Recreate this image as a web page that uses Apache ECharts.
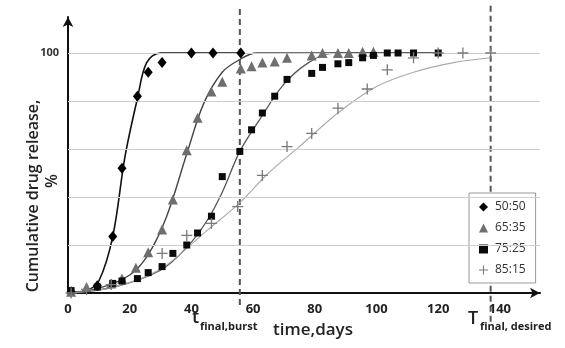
<!DOCTYPE html>
<html>
<head>
<meta charset="utf-8">
<script src="https://cdn.jsdelivr.net/npm/echarts@6/dist/echarts.min.js"></script>
<style>
  html, body { margin: 0; padding: 0; background: #fff; }
  #chart { width: 565px; height: 348px; }
</style>
</head>
<body>
<div id="chart"></div>
<script>
// measured points (days, % released)
const days50 = [1, 9.5, 14.5, 17.5, 22.5, 26, 30.5, 40, 47, 56];
const rel50 = [0.5, 3, 23.5, 52, 82, 92, 96, 100, 100, 100];

const days65 = [1, 6, 14, 17.5, 22, 26, 30.5, 34, 38.5, 42, 46.5, 50, 56, 59.5, 63, 67, 71, 79, 82.5, 87.5, 91, 95.5, 99];
const rel65 = [0.5, 2.5, 4, 6, 10.5, 17, 26.5, 39, 59.5, 73, 84, 88, 93.5, 94.5, 96, 96.5, 98, 99, 100, 100, 100, 100.5, 100.5];

const days75 = [1, 9.5, 14.5, 17.5, 22.5, 26, 30.5, 34, 38.5, 42, 46.5, 50, 55.7, 59.5, 63, 67, 71, 79, 82.5, 87.5, 91, 95.5, 99, 103.5, 107, 112, 120];
const rel75 = [1, 2.5, 4, 5, 6, 8.5, 11, 16.5, 20, 25, 32, 48.5, 59, 68, 75, 82, 89, 91.5, 94, 95.5, 96, 98, 99, 100, 100, 100, 100];

const days85 = [1, 6, 14, 30.5, 38.5, 46.5, 55, 63, 71, 79, 87.5, 97, 103.5, 112, 120, 128, 137];
const rel85 = [0, 1.5, 3.5, 16.5, 24, 29, 36, 49, 61, 66.5, 77, 85, 93, 98, 100, 100, 100];

// fitted curves
const fitDays50 = [0, 6, 10, 14.5, 18.5, 22.5, 25.5, 30, 56];
const fitRel50 = [0, 1, 5, 23.5, 57, 81, 96, 100, 100];

const fitDays65 = [0, 10, 20, 26, 32, 38.5, 44, 50, 56, 61, 120];
const fitRel65 = [0, 2, 7.5, 16, 32, 58, 79, 92, 97.5, 100, 100];

const fitDays75 = [0, 15, 30, 38.5, 45, 50, 55.7, 62, 70, 78, 86, 120];
const fitRel75 = [0, 2.5, 9.5, 19, 30, 42, 59, 72, 87, 96, 100, 100];

const fitDays85 = [0, 15, 30, 45, 56, 65, 75, 87.5, 100, 112, 125, 137];
const fitRel85 = [0, 2.5, 10, 26, 38, 50, 61, 75, 86, 92, 96, 98];

const gridValues = [20, 40, 60, 80, 100];
const burstDay = 55.7;
const desiredDay = 137;

const names = ['50:50', '65:35', '75:25', '85:15'];

const zip = (xs, ys) => xs.map((x, i) => [x, ys[i]]);
const crossPath = 'path://M4.4,0h1.2v4.4h4.4v1.2h-4.4v4.4h-1.2v-4.4h-4.4v-1.2h4.4z';

function fitLine(xs, ys, color, width) {
  return {
    type: 'line', data: zip(xs, ys), showSymbol: false, smooth: 0.35,
    silent: true,
    lineStyle: { color: color, width: width }, z: 2
  };
}

function vLine(day, bottom) {
  return {
    type: 'line', data: [[day, bottom], [day, 120]], showSymbol: false,
    clip: false, silent: true,
    lineStyle: { color: '#555', width: 2, type: [6, 4] }, z: 1
  };
}

const option = {
  animation: false,
  backgroundColor: '#fff',
  textStyle: { fontFamily: 'Open Sans' },
  grid: { left: 68, right: 25, top: 17, bottom: 55 },
  legend: {
    data: [
      { name: names[0], icon: 'diamond', itemStyle: { color: '#000' } },
      { name: names[1], icon: 'triangle', itemStyle: { color: '#6e6e6e' } },
      { name: names[2], icon: 'rect', itemStyle: { color: '#0a0a0a' } },
      { name: names[3], icon: crossPath, itemStyle: { color: '#7a7a7a' } }
    ],
    orient: 'vertical',
    left: 469, top: 193,
    width: 70,
    padding: [8, 10, 7, 10],
    itemGap: 9,
    itemWidth: 9, itemHeight: 9,
    borderColor: '#999', borderWidth: 1,
    backgroundColor: '#fff',
    textStyle: { fontSize: 12, color: '#333', fontFamily: 'Open Sans', padding: [0, 0, 0, 2] }
  },
  xAxis: {
    type: 'value', min: 0, max: 153, interval: 20,
    name: 'time,days', nameLocation: 'middle', nameGap: 29,
    nameTextStyle: { fontSize: 17, fontWeight: 600, color: '#222', padding: [0, 0, 0, 18] },
    axisLine: { lineStyle: { color: '#111', width: 2 }, symbol: ['none', 'arrow'], symbolSize: [8, 10] },
    axisTick: { show: false },
    splitLine: { show: false },
    axisLabel: {
      fontSize: 13, fontWeight: 'bold', color: '#222', margin: 10,
      formatter: v => (v % 20 === 0 ? String(v) : '')
    }
  },
  yAxis: {
    type: 'value', min: 0, max: 115, interval: 20,
    axisLine: { show: true, lineStyle: { color: '#111', width: 2 }, symbol: ['none', 'arrow'], symbolSize: [8, 10] },
    axisTick: { show: false },
    splitLine: { show: false },
    axisLabel: {
      fontSize: 11, fontWeight: 'bold', color: '#333', margin: 9,
      formatter: v => (v === 100 ? '100' : '')
    }
  },
  series: [
    {
      type: 'line', data: [], silent: true,
      markLine: {
        silent: true, symbol: 'none', label: { show: false },
        lineStyle: { color: '#cfcfcf', width: 1, type: 'solid' },
        data: gridValues.map(v => ({ yAxis: v }))
      }, z: 0
    },
    vLine(burstDay, -5),
    vLine(desiredDay, -12),
    fitLine(fitDays50, fitRel50, '#111', 1.6),
    fitLine(fitDays65, fitRel65, '#444', 1.4),
    fitLine(fitDays75, fitRel75, '#555', 1.3),
    fitLine(fitDays85, fitRel85, '#aaa', 1.1),
    { name: names[0], type: 'scatter', data: zip(days50, rel50), symbol: 'diamond', symbolSize: [9, 11], itemStyle: { color: '#000', opacity: 1 }, z: 5 },
    { name: names[1], type: 'scatter', data: zip(days65, rel65), symbol: 'triangle', symbolSize: [10, 10], itemStyle: { color: '#6e6e6e', opacity: 1 }, z: 5 },
    { name: names[2], type: 'scatter', data: zip(days75, rel75), symbol: 'rect', symbolSize: 7, itemStyle: { color: '#0a0a0a', opacity: 1 }, z: 5 },
    { name: names[3], type: 'scatter', data: zip(days85, rel85), symbol: crossPath, symbolSize: 11, itemStyle: { color: '#7a7a7a', opacity: 1 }, z: 5 }
  ],
  graphic: [
    { type: 'text', x: 33, y: 196, rotation: Math.PI / 2,
      style: { text: 'Cumulative drug release,', fontSize: 16, fontWeight: 600, fill: '#222', fontFamily: 'Open Sans', textAlign: 'center', textVerticalAlign: 'middle' } },
    { type: 'text', x: 52, y: 181, rotation: Math.PI / 2,
      style: { text: '%', fontSize: 16, fontWeight: 600, fill: '#222', fontFamily: 'Open Sans', textAlign: 'center', textVerticalAlign: 'middle' } },
    { type: 'text', x: 192, y: 309,
      style: { text: 't', fontSize: 18, fontWeight: 600, fill: '#222', fontFamily: 'Open Sans' } },
    { type: 'text', x: 200, y: 321,
      style: { text: 'final,burst', fontSize: 11, fontWeight: 'bold', fill: '#222', fontFamily: 'Open Sans' } },
    { type: 'text', x: 468, y: 310,
      style: { text: 'T', fontSize: 18, fontWeight: 600, fill: '#222', fontFamily: 'Open Sans' } },
    { type: 'text', x: 480, y: 321,
      style: { text: 'final, desired', fontSize: 11, fontWeight: 'bold', fill: '#222', fontFamily: 'Open Sans' } }
  ]
};

echarts.init(document.getElementById('chart')).setOption(option);
</script>
</body>
</html>
